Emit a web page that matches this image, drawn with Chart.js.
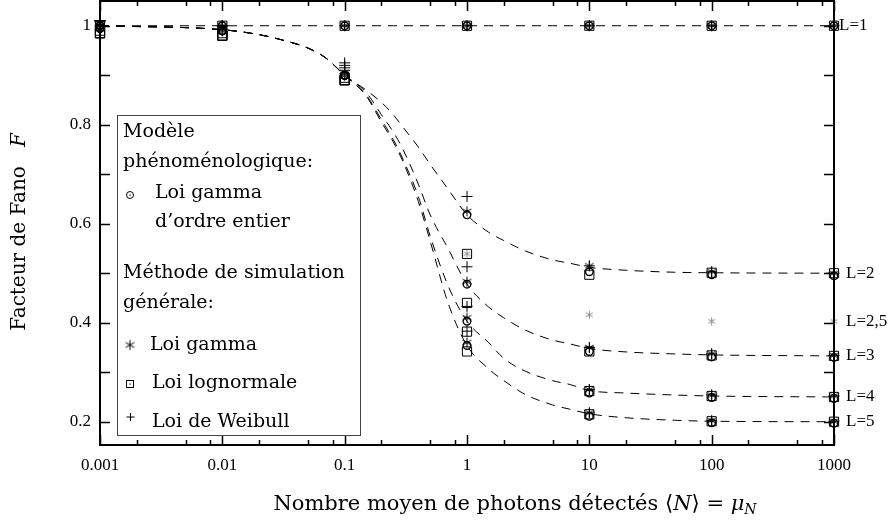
<!DOCTYPE html>
<html>
<head>
<meta charset="utf-8">
<script src="https://cdn.jsdelivr.net/npm/chart.js@4/dist/chart.umd.min.js"></script>
<style>
  html, body { margin: 0; padding: 0; background: #fff; }
  canvas { display: block; }
</style>
</head>
<body>
<canvas id="fanoChart" width="895" height="523"></canvas>
<script>
// mean photon numbers where the simulations were run
const muPoints = [0.001, 0.01, 0.1, 1, 10, 100, 1000];

// Modèle phénoménologique: loi gamma d'ordre entier, L = 1..5
const gammaEntierOrders = [1, 2, 3, 4, 5];
const gammaEntierF = [
  [1.0, 1.0, 1.0, 1.0, 1.0, 1.0, 1.0],
  [0.995, 0.99, 0.90, 0.618, 0.503, 0.497, 0.495],
  [0.995, 0.99, 0.90, 0.478, 0.342, 0.331, 0.33],
  [0.995, 0.99, 0.90, 0.403, 0.258, 0.249, 0.247],
  [0.995, 0.99, 0.90, 0.354, 0.211, 0.198, 0.197]
];

// Méthode de simulation générale: loi gamma (L = 2,5 included)
const gammaSimOrders = [1, 2, 2.5, 3, 4, 5];
const gammaSimF = [
  [1.0, 1.0, 1.0, 1.0, 1.0, 1.0, 1.0],
  [1.005, 0.995, 0.905, 0.625, 0.515, 0.503, 0.5],
  [1.0, 0.99, 0.90, 0.539, 0.416, 0.403, 0.403],
  [1.0, 0.99, 0.90, 0.483, 0.35, 0.337, 0.334],
  [1.0, 0.99, 0.90, 0.41, 0.265, 0.254, 0.252],
  [1.0, 0.99, 0.90, 0.36, 0.218, 0.202, 0.201]
];

// loi lognormale, L = 1..5
const lognormalF = [
  [1.0, 1.0, 1.0, 1.0, 1.0, 1.0, 1.0],
  [0.99, 0.985, 0.895, 0.539, 0.497, 0.501, 0.5],
  [0.985, 0.98, 0.89, 0.44, 0.342, 0.334, 0.333],
  [0.985, 0.98, 0.89, 0.382, 0.262, 0.252, 0.25],
  [0.985, 0.98, 0.89, 0.342, 0.215, 0.201, 0.2]
];

// loi de Weibull, L = 1..5
const weibullF = [
  [1.0, 1.0, 1.0, 1.0, 1.0, 1.0, 1.0],
  [1.01, 1.0, 0.925, 0.655, 0.515, 0.503, 0.5],
  [1.01, 1.0, 0.92, 0.513, 0.35, 0.337, 0.334],
  [1.01, 1.0, 0.915, 0.433, 0.265, 0.254, 0.252],
  [1.01, 1.0, 0.91, 0.383, 0.218, 0.202, 0.201]
];

// dashed theoretical curves
const curveMu = [0.001, 0.01, 0.02, 0.03, 0.05, 0.07, 0.1, 0.15, 0.2, 0.25, 0.3, 0.4, 0.5, 0.7, 1, 1.5, 2, 3, 5, 7, 10, 20, 50, 100, 1000];
const curveL1 = [1, 1, 1, 1, 1, 1, 1, 1, 1, 1, 1, 1, 1, 1, 1, 1, 1, 1, 1, 1, 1, 1, 1, 1, 1];
const curveL2 = [1.0, 0.992, 0.982, 0.972, 0.955, 0.935, 0.90, 0.87, 0.845, 0.82, 0.795, 0.755, 0.72, 0.67, 0.618, 0.583, 0.566, 0.545, 0.527, 0.52, 0.512, 0.506, 0.502, 0.501, 0.50];
const curveL3 = [1.0, 0.992, 0.982, 0.972, 0.955, 0.935, 0.90, 0.865, 0.82, 0.785, 0.75, 0.68, 0.618, 0.55, 0.478, 0.432, 0.41, 0.385, 0.365, 0.357, 0.348, 0.341, 0.337, 0.335, 0.333];
const curveL4 = [1.0, 0.992, 0.982, 0.972, 0.955, 0.935, 0.90, 0.86, 0.81, 0.77, 0.73, 0.655, 0.575, 0.475, 0.403, 0.36, 0.328, 0.302, 0.283, 0.275, 0.263, 0.258, 0.254, 0.252, 0.25];
const curveL5 = [1.0, 0.992, 0.982, 0.972, 0.955, 0.935, 0.90, 0.858, 0.805, 0.765, 0.725, 0.645, 0.565, 0.44, 0.354, 0.307, 0.283, 0.255, 0.234, 0.225, 0.216, 0.208, 0.203, 0.201, 0.20];

// axis ticks
const xTickValues = [0.001, 0.01, 0.1, 1, 10, 100, 1000];
const xTickLabels = ['0.001', '0.01', '0.1', '1', '10', '100', '1000'];
const xMinorFactors = [2, 5, 8];
const yTickValues = [0.2, 0.4, 0.6, 0.8, 1];
const yTickLabels = ['0.2', '0.4', '0.6', '0.8', '1'];
const yMinorValues = [0.3, 0.5, 0.7, 0.9];

// labels on the right side
const rightLabels = ['L=1', 'L=2', 'L=2,5', 'L=3', 'L=4', 'L=5'];
const rightLabelValues = [1, 0.5, 0.403, 0.333, 0.25, 0.2];

const cmFont = '"DejaVu Serif", serif';
const timesFont = '"Liberation Serif", "Times New Roman", serif';

// six-arm asterisk used as point style
function asteriskStyle(r, color, lw) {
  const c = document.createElement('canvas');
  const s = Math.ceil(2 * r + 3);
  c.width = s; c.height = s;
  const g = c.getContext('2d');
  g.strokeStyle = color;
  g.lineWidth = lw;
  g.beginPath();
  for (let k = 0; k < 3; k++) {
    const a = Math.PI / 2 + k * Math.PI / 3;
    g.moveTo(s / 2 + r * Math.cos(a), s / 2 + r * Math.sin(a));
    g.lineTo(s / 2 - r * Math.cos(a), s / 2 - r * Math.sin(a));
  }
  g.stroke();
  return c;
}

const asteriskBlack = asteriskStyle(5, '#000', 1);
const asteriskGrey = asteriskStyle(4, '#8a8a8a', 1);

function toPoints(xs, ys) {
  return xs.map((x, i) => ({ x: x, y: ys[i] }));
}

const datasets = [];

// dashed curves
[curveL1, curveL2, curveL3, curveL4, curveL5].forEach(c => {
  datasets.push({
    data: toPoints(curveMu, c),
    showLine: true,
    borderColor: '#000',
    borderWidth: 1,
    borderDash: [9, 7],
    pointRadius: 0,
    cubicInterpolationMode: 'monotone',
    order: 2
  });
});

// simulation markers
gammaEntierF.forEach(row => {
  datasets.push({
    data: toPoints(muPoints, row),
    pointStyle: 'circle', pointRadius: 3.8, borderWidth: 1.4,
    borderColor: '#000', backgroundColor: 'rgba(0,0,0,0)', clip: false, order: 1
  });
});
gammaSimF.forEach((row, i) => {
  const grey = gammaSimOrders[i] === 2.5;
  datasets.push({
    data: toPoints(muPoints, row),
    pointStyle: grey ? asteriskGrey : asteriskBlack, pointRadius: 5,
    clip: false, order: 1
  });
});
lognormalF.forEach(row => {
  datasets.push({
    data: toPoints(muPoints, row),
    pointStyle: 'rect', pointRadius: 6.5, borderWidth: 1,
    borderColor: '#000', backgroundColor: 'rgba(0,0,0,0)', clip: false, order: 1
  });
});
weibullF.forEach(row => {
  datasets.push({
    data: toPoints(muPoints, row),
    pointStyle: 'cross', pointRadius: 5.5, borderWidth: 1,
    borderColor: '#000', clip: false, order: 1
  });
});

// frame, inward ticks, legend box, titles and right labels
const decorations = {
  id: 'decorations',
  afterDraw(chart) {
    const ctx = chart.ctx;
    const a = chart.chartArea;
    const xs = chart.scales.x;
    const ys = chart.scales.y;
    ctx.save();
    ctx.strokeStyle = '#000';

    // ticks on all four sides
    ctx.lineWidth = 1.5;
    ctx.beginPath();
    xTickValues.forEach(v => {
      const px = Math.round(xs.getPixelForValue(v)) + 0.5;
      ctx.moveTo(px, a.bottom); ctx.lineTo(px, a.bottom - 10);
      ctx.moveTo(px, a.top); ctx.lineTo(px, a.top + 10);
      if (v < 1000) {
        xMinorFactors.forEach(f => {
          const pm = Math.round(xs.getPixelForValue(v * f)) + 0.5;
          ctx.moveTo(pm, a.bottom); ctx.lineTo(pm, a.bottom - 5);
          ctx.moveTo(pm, a.top); ctx.lineTo(pm, a.top + 5);
        });
      }
    });
    yTickValues.concat(yMinorValues).forEach(v => {
      const py = Math.round(ys.getPixelForValue(v)) + 0.5;
      ctx.moveTo(a.left, py); ctx.lineTo(a.left + 10, py);
      ctx.moveTo(a.right, py); ctx.lineTo(a.right - 10, py);
    });
    ctx.stroke();

    // frame
    ctx.lineWidth = 2;
    ctx.strokeRect(a.left, a.top, a.right - a.left, a.bottom - a.top);

    // legend box
    ctx.fillStyle = '#fff';
    ctx.fillRect(117, 115, 243, 320);
    ctx.lineWidth = 1;
    ctx.strokeStyle = '#444';
    ctx.strokeRect(117.5, 115.5, 243, 320);
    ctx.strokeStyle = '#000';
    ctx.fillStyle = '#000';
    ctx.font = '19px ' + cmFont;
    ctx.textBaseline = 'middle';
    ctx.textAlign = 'left';
    ctx.fillText('Modèle', 123, 132);
    ctx.fillText('phénoménologique:', 123, 162);
    ctx.fillText('Loi gamma', 155, 193);
    ctx.fillText('d’ordre entier', 155, 222);
    ctx.fillText('Méthode de simulation', 123, 273);
    ctx.fillText('générale:', 123, 303);
    ctx.fillText('Loi gamma', 150, 345);
    ctx.fillText('Loi lognormale', 152, 383);
    ctx.fillText('Loi de Weibull', 152, 422);
    // legend symbols
    ctx.lineWidth = 1;
    ctx.beginPath();
    ctx.arc(130, 195, 3.5, 0, Math.PI * 2);
    ctx.stroke();
    ctx.fillRect(129.5, 194.5, 1.2, 1.2);
    ctx.drawImage(asteriskBlack, 130 - asteriskBlack.width / 2, 345 - asteriskBlack.height / 2);
    ctx.strokeRect(126.5, 380.5, 7, 7);
    ctx.fillRect(129.5, 383.5, 1.2, 1.2);
    ctx.beginPath();
    ctx.moveTo(130.5, 413); ctx.lineTo(130.5, 421);
    ctx.moveTo(126.5, 417); ctx.lineTo(134.5, 417);
    ctx.stroke();

    // right labels
    ctx.font = '17px ' + timesFont;
    rightLabels.forEach((t, i) => {
      const py = ys.getPixelForValue(rightLabelValues[i]);
      ctx.fillText(t, i === 0 ? 839 : 846, py);
    });

    // x title
    const yT = 505;
    const parts = [
      ['Nombre moyen de photons détectés ', '21px ' + cmFont, 0],
      ['⟨', '21px ' + cmFont, 0],
      ['N', 'italic 21px ' + cmFont, 0],
      ['⟩ = ', '21px ' + cmFont, 0],
      ['μ', 'italic 21px ' + cmFont, 0],
      ['N', 'italic 14px ' + cmFont, 5]
    ];
    let total = 0;
    parts.forEach(p => { ctx.font = p[1]; total += ctx.measureText(p[0]).width; });
    let px = 515 - total / 2;
    parts.forEach(p => {
      ctx.font = p[1];
      ctx.fillText(p[0], px, yT + p[2]);
      px += ctx.measureText(p[0]).width;
    });

    // y title
    ctx.translate(20, 232);
    ctx.rotate(-Math.PI / 2);
    const yParts = [
      ['Facteur de Fano   ', '20px ' + cmFont],
      ['F', 'italic 20px ' + cmFont]
    ];
    total = 0;
    yParts.forEach(p => { ctx.font = p[1]; total += ctx.measureText(p[0]).width; });
    px = -total / 2;
    yParts.forEach(p => {
      ctx.font = p[1];
      ctx.fillText(p[0], px, 0);
      px += ctx.measureText(p[0]).width;
    });
    ctx.restore();
  }
};

const ctx = document.getElementById('fanoChart').getContext('2d');
new Chart(ctx, {
  type: 'scatter',
  data: { datasets: datasets },
  options: {
    responsive: false,
    animation: false,
    devicePixelRatio: 1,
    layout: { autoPadding: false, padding: { left: 0, right: 61, top: 1, bottom: 0 } },
    plugins: { legend: { display: false }, tooltip: { enabled: false } },
    scales: {
      x: {
        type: 'logarithmic',
        min: 0.001,
        max: 1000,
        grid: { display: false, drawTicks: false },
        border: { display: false },
        ticks: {
          padding: 10,
          color: '#000',
          autoSkip: false,
          maxRotation: 0,
          font: { family: timesFont, size: 17 },
          callback: (v, i) => xTickLabels[i]
        },
        afterBuildTicks: s => { s.ticks = xTickValues.map(v => ({ value: v })); },
        afterFit: s => {
          s.height = 78;
          s.paddingLeft = 0;
          s.paddingRight = 0;
        }
      },
      y: {
        min: 0.153,
        max: 1.05,
        grid: { display: false, drawTicks: false },
        border: { display: false },
        ticks: {
          padding: 9,
          color: '#000',
          autoSkip: false,
          font: { family: timesFont, size: 17 },
          callback: (v, i) => yTickLabels[i]
        },
        afterBuildTicks: s => { s.ticks = yTickValues.map(v => ({ value: v })); },
        afterFit: s => {
          s.width = 100;
          s.paddingTop = 0;
          s.paddingBottom = 0;
        }
      }
    }
  },
  plugins: [decorations]
});
</script>
</body>
</html>
